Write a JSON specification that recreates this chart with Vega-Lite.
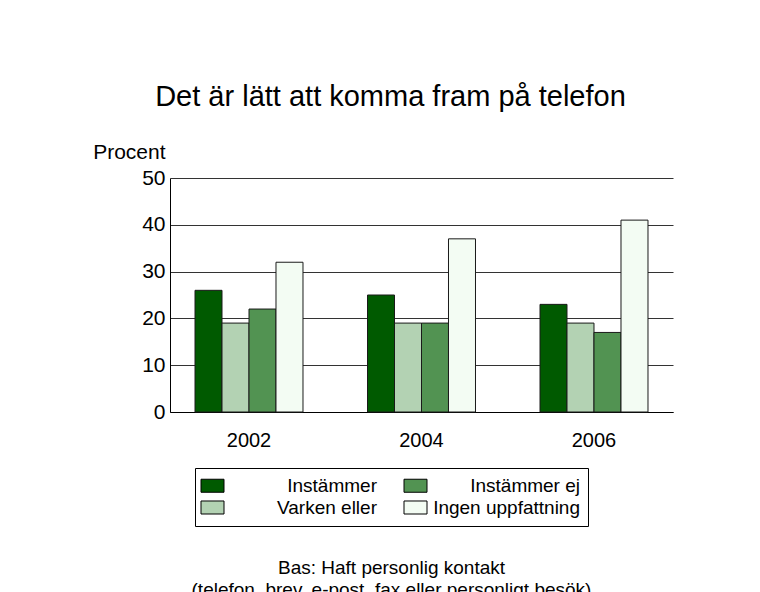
{
  "$schema": "https://vega.github.io/schema/vega-lite/v6.json",
  "width": 503,
  "height": 234,
  "autosize": {"type": "none"},
  "padding": {"left": 170, "top": 178, "right": 87, "bottom": 180},
  "background": "white",
  "title": {
    "text": "Det är lätt att komma fram på telefon",
    "font": "Liberation Sans",
    "fontSize": 29,
    "fontWeight": "normal",
    "color": "#000",
    "anchor": "middle",
    "frame": "group",
    "dx": -31,
    "offset": 29
  },
  "data": {
    "values": [
      {"year": "2002", "category": "Instämmer", "value": 26},
      {"year": "2002", "category": "Varken eller", "value": 19},
      {"year": "2002", "category": "Instämmer ej", "value": 22},
      {"year": "2002", "category": "Ingen uppfattning", "value": 32},
      {"year": "2004", "category": "Instämmer", "value": 25},
      {"year": "2004", "category": "Varken eller", "value": 19},
      {"year": "2004", "category": "Instämmer ej", "value": 19},
      {"year": "2004", "category": "Ingen uppfattning", "value": 37},
      {"year": "2006", "category": "Instämmer", "value": 23},
      {"year": "2006", "category": "Varken eller", "value": 19},
      {"year": "2006", "category": "Instämmer ej", "value": 17},
      {"year": "2006", "category": "Ingen uppfattning", "value": 41}
    ]
  },
  "mark": {"type": "bar", "stroke": "#1a1a1a", "strokeWidth": 1},
  "encoding": {
    "x": {
      "field": "year",
      "type": "nominal",
      "scale": {"paddingInner": 0.374, "paddingOuter": 0.145},
      "axis": {
        "labelAngle": 0,
        "labelFont": "Liberation Sans",
        "labelFontSize": 20,
        "labelColor": "#000",
        "labelPadding": 18,
        "ticks": false,
        "domain": true,
        "domainColor": "#000",
        "title": ["Bas: Haft personlig kontakt", "(telefon, brev, e-post, fax eller personligt besök)"],
        "titleFont": "Liberation Sans",
        "titleFontSize": 19,
        "titleFontWeight": "normal",
        "titleColor": "#000",
        "titleX": 221,
        "titleY": 161,
        "titleAlign": "center",
        "titleBaseline": "alphabetic",
        "titleLineHeight": 22
      }
    },
    "xOffset": {
      "field": "category",
      "type": "nominal",
      "sort": ["Instämmer", "Varken eller", "Instämmer ej", "Ingen uppfattning"],
      "scale": {"paddingInner": 0, "paddingOuter": 0}
    },
    "y": {
      "field": "value",
      "type": "quantitative",
      "scale": {"domain": [0, 50], "nice": false},
      "axis": {
        "values": [0, 10, 20, 30, 40, 50],
        "grid": true,
        "gridColor": "#333",
        "gridOpacity": 1,
        "ticks": false,
        "domain": true,
        "domainColor": "#000",
        "labelFont": "Liberation Sans",
        "labelFontSize": 21,
        "labelColor": "#000",
        "labelPadding": 5,
        "title": "Procent",
        "titleFont": "Liberation Sans",
        "titleFontSize": 21,
        "titleFontWeight": "normal",
        "titleColor": "#000",
        "titleAngle": 0,
        "titleAlign": "right",
        "titleBaseline": "alphabetic",
        "titleX": -5,
        "titleY": -20
      }
    },
    "color": {
      "field": "category",
      "type": "nominal",
      "scale": {
        "domain": ["Instämmer", "Varken eller", "Instämmer ej", "Ingen uppfattning"],
        "range": ["#005a00", "#b3d2b3", "#529352", "#f3fcf3"]
      },
      "legend": {
        "orient": "none",
        "legendX": 25,
        "legendY": 290,
        "columns": 2,
        "title": null,
        "symbolType": "M-1.353,-0.765H1.353V0.765H-1.353Z",
        "symbolSize": 289,
        "symbolStrokeColor": "#000",
        "symbolStrokeWidth": 1,
        "symbolOpacity": 1,
        "labelFont": "Liberation Sans",
        "labelFontSize": 19,
        "labelColor": "#000",
        "labelAlign": "right",
        "labelOffset": 155,
        "labelLimit": 200,
        "columnPadding": 24,
        "rowPadding": 2,
        "padding": 8,
        "strokeColor": "#000",
        "fillColor": "white"
      }
    }
  },
  "config": {
    "view": {"stroke": null}
  }
}
